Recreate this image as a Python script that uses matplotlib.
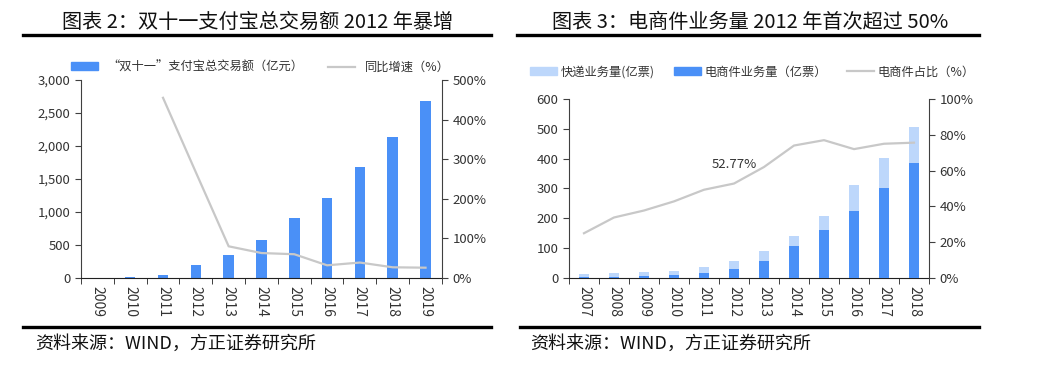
import matplotlib.pyplot as plt
from matplotlib.lines import Line2D
from matplotlib.patches import Patch
from matplotlib.ticker import FuncFormatter, FixedLocator
import numpy as np

plt.rcParams['font.family'] = ['Noto Sans CJK SC', 'DejaVu Sans']

# 图表2 数据
years_a = ['2009', '2010', '2011', '2012', '2013', '2014', '2015', '2016', '2017', '2018', '2019']
gmv = [0.5, 9.36, 52, 191, 350, 571, 912, 1207, 1682, 2135, 2684]
growth = [None, None, 455, 267, 80, 63, 60, 32, 39, 27, 26]

# 图表3 数据
years_b = ['2007', '2008', '2009', '2010', '2011', '2012', '2013', '2014', '2015', '2016', '2017', '2018']
express = [12, 15.1, 18.6, 23.4, 36.7, 56.9, 91.9, 139.6, 206.7, 312.8, 400.6, 507.1]
ecom = [3, 4.5, 7, 9.5, 18, 30, 58, 106, 160, 226, 302, 386]
ecom_share = [25, 33.8, 37.7, 42.8, 49.3, 52.77, 62, 74, 77, 72, 75, 75.6]

BLUE = '#4A90F7'
LIGHT = '#BDD7FB'
GRAY = '#C8C8C8'
TXT = '#333333'

fig = plt.figure(figsize=(10.49, 3.75), dpi=100)


def style_axes(ax, ax2, n):
    for a in (ax, ax2):
        a.spines['top'].set_visible(False)
    ax.spines['right'].set_visible(False)
    ax2.spines['left'].set_visible(False)
    ax2.spines['bottom'].set_visible(False)
    ax.spines['left'].set_color('#404040')
    ax2.spines['right'].set_color('#404040')
    ax.spines['bottom'].set_color('#202020')
    ax.set_xlim(-0.5, n - 0.5)
    ax.set_xticks(range(n))
    ax.xaxis.set_minor_locator(FixedLocator(np.arange(-0.5, n, 1)))
    ax.tick_params(axis='x', which='major', length=0, pad=6)
    ax.tick_params(axis='x', which='minor', length=4, color='#202020')
    ax.tick_params(axis='y', length=4, color='#404040', labelsize=9.5, labelcolor=TXT)
    ax2.tick_params(axis='y', length=4, color='#404040', labelsize=9.5, labelcolor=TXT)


# ---------- 图表2 ----------
ax1 = fig.add_axes([0.0772, 0.2587, 0.3441, 0.528])
ax1b = ax1.twinx()
x_a = np.arange(len(years_a))
ax1.bar(x_a, gmv, width=0.32, color=BLUE, zorder=2)
gx = [i for i, g in enumerate(growth) if g is not None]
gy = [g for g in growth if g is not None]
ax1b.plot(gx, gy, color=GRAY, lw=1.6)
ax1.set_ylim(0, 3000)
ax1.set_yticks(range(0, 3001, 500))
ax1.yaxis.set_major_formatter(FuncFormatter(lambda v, p: f'{v:,.0f}'))
ax1b.set_ylim(0, 500)
ax1b.set_yticks(range(0, 501, 100))
ax1b.yaxis.set_major_formatter(FuncFormatter(lambda v, p: f'{v:.0f}%'))
style_axes(ax1, ax1b, len(years_a))
ax1.set_xticklabels(years_a, rotation=-90, fontsize=10, color=TXT)

fig.legend(handles=[Patch(color=BLUE), Line2D([], [], color=GRAY, lw=1.6)],
           labels=['“双十一”支付宝总交易额（亿元）', '同比增速（%）'],
           loc='center', bbox_to_anchor=(0.248, 0.821), ncol=2, frameon=False,
           fontsize=8.8, handlelength=2.2, handleheight=0.6, columnspacing=2.0,
           labelcolor=TXT)

# ---------- 图表3 ----------
ax2 = fig.add_axes([0.5424, 0.2587, 0.3432, 0.4773])
ax2b = ax2.twinx()
x_b = np.arange(len(years_b))
ax2.bar(x_b, express, width=0.33, color=LIGHT, zorder=2)
ax2.bar(x_b, ecom, width=0.33, color=BLUE, zorder=3)
ax2b.plot(x_b, ecom_share, color=GRAY, lw=1.6)
ax2b.annotate(f'{ecom_share[5]:.2f}%', xy=(x_b[5], ecom_share[5]), xytext=(0, 9),
              textcoords='offset points', ha='center', va='bottom', fontsize=9.5, color=TXT)
ax2.set_ylim(0, 600)
ax2.set_yticks(range(0, 601, 100))
ax2b.set_ylim(0, 100)
ax2b.set_yticks(range(0, 101, 20))
ax2b.yaxis.set_major_formatter(FuncFormatter(lambda v, p: f'{v:.0f}%'))
style_axes(ax2, ax2b, len(years_b))
ax2.set_xticklabels(years_b, rotation=-90, fontsize=10, color=TXT)

fig.legend(handles=[Patch(color=LIGHT), Patch(color=BLUE), Line2D([], [], color=GRAY, lw=1.6)],
           labels=['快递业务量(亿票)', '电商件业务量（亿票）', '电商件占比（%）'],
           loc='center', bbox_to_anchor=(0.717, 0.808), ncol=3, frameon=False,
           fontsize=8.8, handlelength=2.2, handleheight=0.6, columnspacing=1.6,
           handletextpad=0.3, labelcolor=TXT)

# ---------- 标题、分隔线、来源 ----------
fig.text(0.246, 0.941, '图表 2：双十一支付宝总交易额 2012 年暴增', ha='center', va='center',
         fontsize=14.5, color='#111111')
fig.text(0.715, 0.941, '图表 3：电商件业务量 2012 年首次超过 50%', ha='center', va='center',
         fontsize=14.5, color='#111111')
for x0, x1 in [(23, 491), (517, 979)]:
    fig.add_artist(Line2D([x0 / 1049, x1 / 1049], [0.9067, 0.9067], color='black', lw=2.4))
for x0, x1 in [(23, 491), (520, 979)]:
    fig.add_artist(Line2D([x0 / 1049, x1 / 1049], [0.128, 0.128], color='black', lw=2.4))
fig.text(35 / 1049, 0.083, '资料来源：WIND，方正证券研究所', ha='left', va='center',
         fontsize=13, color='#111111')
fig.text(530 / 1049, 0.083, '资料来源：WIND，方正证券研究所', ha='left', va='center',
         fontsize=13, color='#111111')

fig.savefig('out.png', dpi=100)
